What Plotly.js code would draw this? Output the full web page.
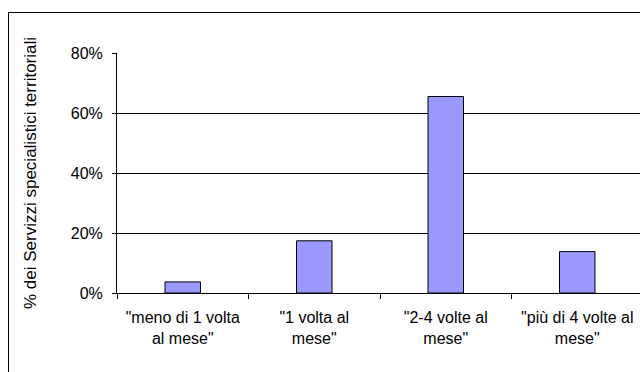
<!DOCTYPE html>
<html>
<head>
<meta charset="utf-8">
<script src="https://cdn.plot.ly/plotly-3.0.1.min.js"></script>
<style>
html,body{margin:0;padding:0;overflow:hidden;background:#fff;width:640px;height:372px;}
#wrap{position:absolute;left:0;top:0;width:640px;height:372px;overflow:hidden;}
#frame{position:absolute;left:8px;top:12px;width:632px;height:360px;border-left:1px solid #000;border-top:1px solid #000;box-sizing:border-box;pointer-events:none;z-index:5;}
#chart{position:absolute;left:0;top:0;}
</style>
</head>
<body>
<div id="wrap">
<div id="chart"></div>
<div id="frame"></div>
</div>
<script>
const categories = ['"meno di 1 volta<br>al mese"', '"1 volta al<br>mese"', '"2-4 volte al<br>mese"', '"più di 4 volte al<br>mese"'];
const values = [3.7, 17.4, 65.5, 13.8];
const yTicks = [0, 20, 40, 60, 80];
const yTickLabels = ['0%', '20%', '40%', '60%', '80%'];
const yTitle = '% dei Servizzi specialistici territoriali';

const font = {family: 'Liberation Sans, Arial, sans-serif', size: 16, color: '#000'};
const titleFont = {family: 'Liberation Sans, Arial, sans-serif', size: 17, color: '#000'};

Plotly.newPlot('chart', [{
  type: 'bar',
  x: categories,
  y: values,
  marker: {color: '#9999FF', line: {color: '#000', width: 1}},
  hoverinfo: 'none'
}], {
  width: 660, height: 372,
  margin: {l: 117, r: 17, t: 53, b: 79},
  paper_bgcolor: '#fff', plot_bgcolor: '#fff',
  font: font,
  bargap: 0.73,
  showlegend: false,
  xaxis: {
    type: 'category',
    showline: true, linecolor: '#000', linewidth: 1,
    ticks: 'outside', tickson: 'boundaries', ticklen: 5, tickcolor: '#000',
    showgrid: false, zeroline: false,
    tickfont: font, tickangle: 0,
    ticklabelstandoff: 10
  },
  yaxis: {
    range: [0, 80],
    tickvals: yTicks, ticktext: yTickLabels,
    showline: true, linecolor: '#000', linewidth: 1,
    ticks: 'outside', ticklen: 4, tickcolor: '#000',
    showgrid: true, gridcolor: '#000', gridwidth: 1,
    zeroline: false,
    tickfont: font,
    ticklabelstandoff: 6,
    title: {text: yTitle, font: titleFont, standoff: 29}
  }
}, {displayModeBar: false, staticPlot: true});
</script>
</body>
</html>
